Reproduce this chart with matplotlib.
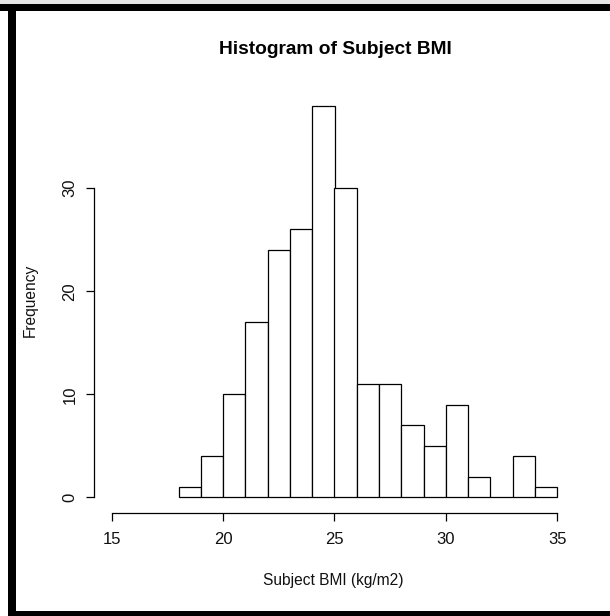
import matplotlib
matplotlib.use("Agg")
import matplotlib.pyplot as plt
from matplotlib.patches import Rectangle

# Data
bin_edges = [18, 19, 20, 21, 22, 23, 24, 25, 26, 27, 28, 29, 30, 31, 32, 33, 34, 35]
counts = [1, 4, 10, 17, 24, 26, 38, 30, 11, 11, 7, 5, 9, 2, 0, 4, 1]
x_ticks = [15, 20, 25, 30, 35]
y_ticks = [0, 10, 20, 30]
title = "Histogram of Subject BMI"
xlabel = "Subject BMI (kg/m2)"
ylabel = "Frequency"

W, H = 610, 616
fig = plt.figure(figsize=(W / 100, H / 100), dpi=100)
fig.patch.set_facecolor("white")
font = ["Liberation Sans", "DejaVu Sans"]

# plot region (pixels)
left, right, top, bottom = 94, 575, 90, 513
ax = fig.add_axes([left / W, 1 - bottom / H, (right - left) / W, (bottom - top) / H])

lefts = bin_edges[:-1]
widths = [b - a for a, b in zip(bin_edges[:-1], bin_edges[1:])]
ax.bar(lefts, counts, width=widths, align="edge", facecolor="white",
       edgecolor="black", linewidth=0.9)

x0, x1 = 15, 35
ax.set_xlim(x0 - 0.04 * (x1 - x0), x1 + 0.04 * (x1 - x0))
ymax = max(counts)
ax.set_ylim(-0.04 * ymax, ymax * 1.04)

for s in ["top", "right"]:
    ax.spines[s].set_visible(False)
ax.spines["bottom"].set_bounds(x_ticks[0], x_ticks[-1])
ax.spines["left"].set_bounds(y_ticks[0], y_ticks[-1])
for s in ["bottom", "left"]:
    ax.spines[s].set_linewidth(0.9)

ax.set_xticks(x_ticks)
ax.set_yticks(y_ticks)
ax.set_xticklabels([str(v) for v in x_ticks], fontsize=12, family=font, color="#111111")
ax.set_yticklabels([str(v) for v in y_ticks], fontsize=12, family=font, color="#111111",
                   rotation=90, va="center")
ax.tick_params(axis="x", length=6, width=0.9, pad=8)
ax.tick_params(axis="y", length=6, width=0.9, pad=6)

fig.text(335 / W, 1 - 50 / H, title, ha="center", va="center", fontsize=13.8,
         fontweight="bold", family=font)
fig.text(333 / W, 1 - 580 / H, xlabel, ha="center", va="center", fontsize=11.2,
         family=font, color="#111111")
fig.text(30 / W, 1 - 300 / H, ylabel, ha="center", va="center", fontsize=11.2,
         family=font, rotation=90, color="#111111")

# black frame
fig.patches.append(Rectangle((0, 1 - 3.5 / H), 1, 3.5 / H, transform=fig.transFigure,
                             facecolor="#e6e6e6", edgecolor="none"))
fig.patches.append(Rectangle((0, 1 - 11 / H), 1, 7.5 / H, transform=fig.transFigure,
                             facecolor="black", edgecolor="none"))
fig.patches.append(Rectangle((8 / W, 0), 8 / W, 1 - 3.5 / H, transform=fig.transFigure,
                             facecolor="black", edgecolor="none"))
fig.patches.append(Rectangle((8 / W, 0), 1, 5.5 / H, transform=fig.transFigure,
                             facecolor="black", edgecolor="none"))

fig.savefig("out.png", dpi=100)
